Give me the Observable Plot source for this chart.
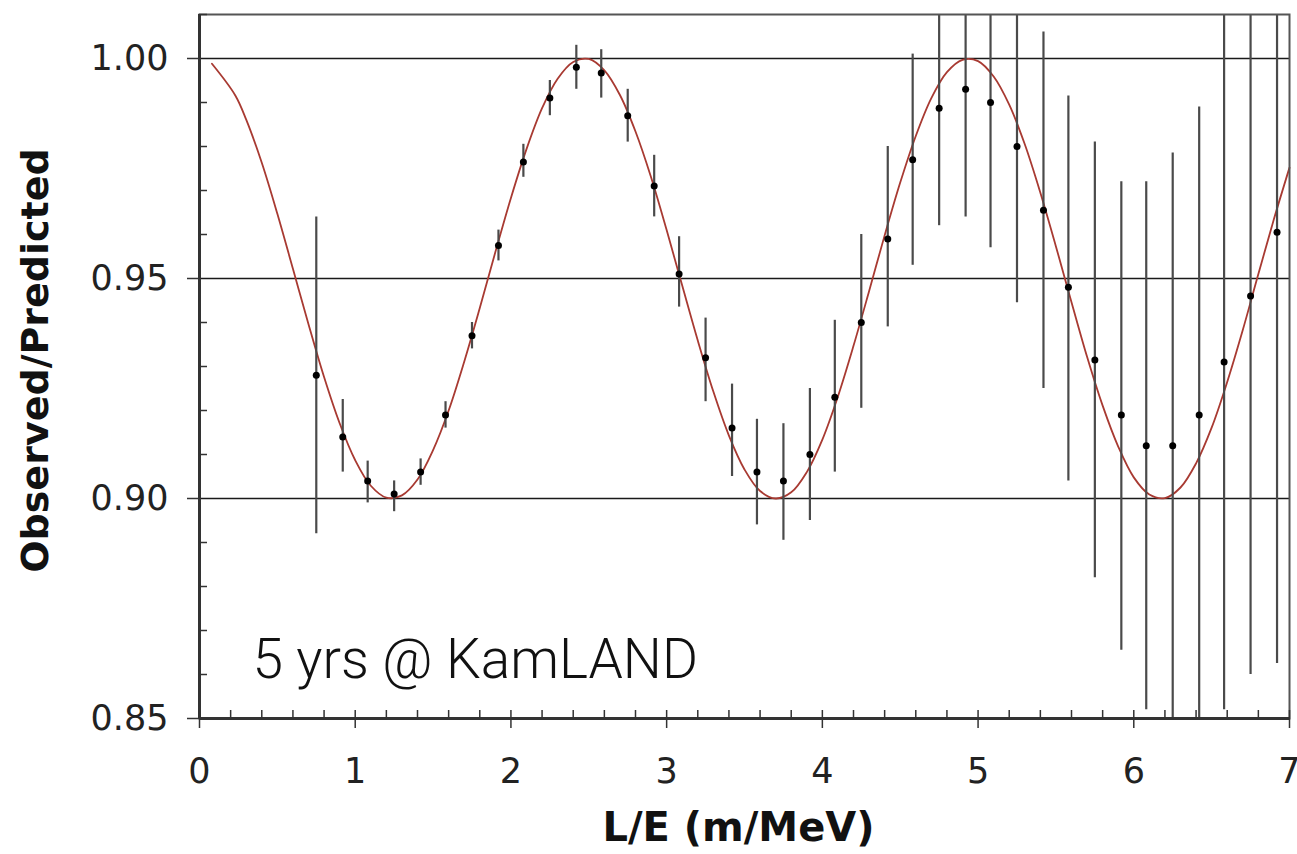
<!DOCTYPE html>
<html><head><meta charset="utf-8">
<script src="https://cdn.jsdelivr.net/npm/d3@7"></script>
<script src="https://cdn.jsdelivr.net/npm/@observablehq/plot@0.6"></script>
<style>body{margin:0;background:#fff;} #chart svg{display:block;}</style>
</head><body><div id="chart"></div>
<script>
// Measured points (L/E in m/MeV) with error bar ends
const LE = [0.75,0.92,1.08,1.25,1.42,1.58,1.75,1.92,2.08,2.25,2.42,2.58,2.75,2.92,3.08,3.25,3.42,3.58,3.75,3.92,4.08,4.25,4.42,4.58,4.75,4.92,5.08,5.25,5.42,5.58,5.75,5.92,6.08,6.25,6.42,6.58,6.75,6.92];
const ratio = [0.928,0.914,0.904,0.901,0.906,0.919,0.937,0.9575,0.9765,0.991,0.998,0.9967,0.987,0.971,0.951,0.932,0.916,0.906,0.904,0.910,0.923,0.940,0.959,0.977,0.9887,0.993,0.990,0.980,0.9655,0.948,0.9315,0.919,0.912,0.912,0.919,0.931,0.946,0.9605];
const ratioLow = [0.892,0.906,0.899,0.897,0.903,0.916,0.934,0.954,0.973,0.987,0.993,0.991,0.981,0.964,0.9435,0.922,0.905,0.894,0.8905,0.895,0.906,0.9205,0.939,0.953,0.962,0.964,0.957,0.9445,0.925,0.904,0.882,0.8655,0.852,0.8455,0.849,0.852,0.860,0.8625];
const ratioHigh = [0.964,0.9225,0.9085,0.904,0.909,0.922,0.940,0.961,0.9805,0.995,1.003,1.002,0.993,0.978,0.9595,0.941,0.926,0.918,0.917,0.925,0.9405,0.960,0.980,1.001,1.0155,1.0225,1.023,1.016,1.006,0.9915,0.981,0.972,0.972,0.9785,0.989,1.010,1.032,1.058];

// Oscillation curve
const curveLE = [0.08,0.23,0.3,0.4,0.5,0.6,0.7,0.8,0.9,1.0,1.1,1.2,1.3,1.4,1.5,1.6,1.7,1.8,1.9,2.0,2.1,2.2,2.3,2.4,2.5,2.6,2.7,2.8,2.9,3.0,3.1,3.2,3.3,3.4,3.5,3.6,3.7,3.8,3.9,4.0,4.1,4.2,4.3,4.4,4.5,4.6,4.7,4.8,4.9,5.0,5.1,5.2,5.3,5.4,5.5,5.6,5.7,5.8,5.9,6.0,6.1,6.2,6.3,6.4,6.5,6.6,6.7,6.8,6.9,7.0];
const curveRatio = [0.9988,0.9916,0.9861,0.9763,0.9647,0.9522,0.9396,0.9276,0.9171,0.9087,0.9029,0.9002,0.9007,0.9043,0.9110,0.9200,0.9311,0.9433,0.9560,0.9683,0.9794,0.9887,0.9954,0.9992,0.9999,0.9973,0.9917,0.9834,0.9730,0.9610,0.9484,0.9359,0.9243,0.9143,0.9066,0.9017,0.9000,0.9014,0.9060,0.9134,0.9232,0.9347,0.9471,0.9598,0.9718,0.9824,0.9910,0.9969,0.9997,0.9994,0.9959,0.9895,0.9805,0.9695,0.9573,0.9446,0.9322,0.9211,0.9118,0.9048,0.9009,0.9001,0.9025,0.9080,0.9161,0.9265,0.9383,0.9510,0.9635,0.9752];

// Ticks and labels
const xMajorTicks = [0,1,2,3,4,5,6,7];
const xMinorTicks = [0.2,0.4,0.6,0.8,1.2,1.4,1.6,1.8,2.2,2.4,2.6,2.8,3.2,3.4,3.6,3.8,4.2,4.4,4.6,4.8,5.2,5.4,5.6,5.8,6.2,6.4,6.6,6.8];
const yMajorTicks = [0.85,0.90,0.95,1.00];
const yMinorTicks = [0.86,0.87,0.88,0.89,0.91,0.92,0.93,0.94,0.96,0.97,0.98,0.99,1.01];
const gridValues = [0.90,0.95,1.00];
const xTitle = "L/E (m/MeV)";
const yTitle = "Observed/Predicted";
const note = ["5 yrs @ KamLAND"];
const noteX = 0.34, noteY = 0.8633;

const points = LE.map((x, i) => ({x, y: ratio[i], lo: ratioLow[i], hi: ratioHigh[i]}));
const curve = curveLE.map((x, i) => ({x, y: curveRatio[i]}));

const font = "'DejaVu Sans', Verdana, sans-serif";
const axisColor = "#333";

const chart = Plot.plot({
  width: 1297,
  height: 854,
  marginLeft: 199,
  marginRight: 8,
  marginTop: 14,
  marginBottom: 136,
  style: {fontFamily: font, background: "#fff", color: "#222", overflow: "visible"},
  x: {domain: [0, 7], label: null},
  y: {domain: [0.85, 1.01], label: null},
  marks: [
    Plot.ruleY(gridValues, {stroke: "#1a1a1a", strokeWidth: 1.5}),
    Plot.line(curve, {x: "x", y: "y", stroke: "#a83a32", strokeWidth: 1.8, curve: "catmull-rom"}),
    Plot.ruleX(points, {x: "x", y1: "lo", y2: "hi", stroke: "#4a4a4a", strokeWidth: 2.2, clip: true}),
    Plot.dot(points, {x: "x", y: "y", r: 3.5, fill: "#000"}),
    Plot.frame({stroke: "#555", strokeWidth: 2}),
    Plot.ruleX([0], {stroke: axisColor, strokeWidth: 3}),
    Plot.ruleY([0.85], {stroke: axisColor, strokeWidth: 3}),
    Plot.axisX({ticks: xMinorTicks, tickSize: 8, dy: -8, text: null, label: null, stroke: axisColor, strokeWidth: 1.5}),
    Plot.axisX({ticks: xMajorTicks, tickSize: 18, dy: -8, text: null, label: null, stroke: axisColor, strokeWidth: 1.5}),
    Plot.axisX({ticks: xMajorTicks, tickSize: 0, tickPadding: 40, tickFormat: d3.format("d"), label: null, fontSize: 35, fill: "#222"}),
    Plot.axisY({ticks: yMinorTicks, tickSize: 8, dx: 8, text: null, label: null, stroke: axisColor, strokeWidth: 1.5}),
    Plot.axisY({ticks: yMajorTicks, tickSize: 12, tickPadding: 19, tickFormat: d3.format(".2f"), label: null, fontSize: 35, fill: "#222", stroke: axisColor, strokeWidth: 1.5}),
    Plot.text([yTitle], {text: d => d, frameAnchor: "left", textAnchor: "middle", lineAnchor: "middle", rotate: -90, dx: -164, dy: -6, fontSize: 38, fontWeight: "bold", fill: "#111"}),
    Plot.text([xTitle], {text: d => d, frameAnchor: "bottom", textAnchor: "middle", lineAnchor: "middle", dx: -6, dy: 110, fontSize: 40, fontWeight: "bold", fill: "#111"}),
    Plot.text(note, {text: d => d, x: noteX, y: noteY, textAnchor: "start", lineAnchor: "middle", fontSize: 55, fontWeight: 300, fontFamily: "Roboto, 'Liberation Sans', sans-serif", fill: "#111"})
  ]
});
document.getElementById("chart").append(chart);
</script>
</body></html>
